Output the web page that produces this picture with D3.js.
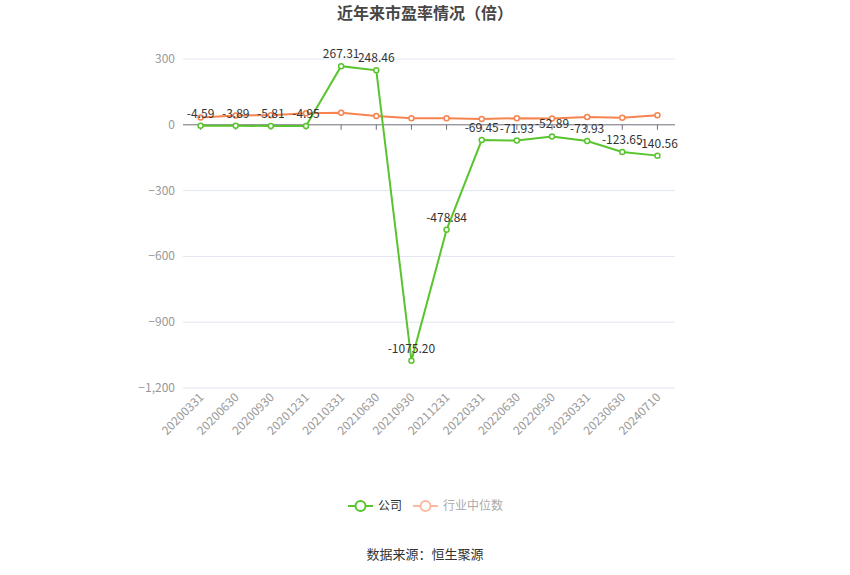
<!DOCTYPE html>
<html>
<head>
<meta charset="utf-8">
<title>近年来市盈率情况</title>
<script src="https://cdn.jsdelivr.net/npm/d3@7"></script>
<style>
  body { margin: 0; background: #fff; }
  text { font-family: "Noto Sans CJK SC", "Noto Sans", sans-serif; }
</style>
</head>
<body>
<script>
// data
var dates = ["20200331", "20200630", "20200930", "20201231", "20210331", "20210630", "20210930",
             "20211231", "20220331", "20220630", "20220930", "20230331", "20230630", "20240710"];
var company = [-4.59, -3.89, -5.81, -4.95, 267.31, 248.46, -1075.20, -478.84, -69.45, -71.93, -52.89, -73.93, -123.65, -140.56];
var industry = [33, 42, 44, 53, 55, 40, 30, 30, 27, 30, 29, 36, 32, 44];
var yTicks = [300, 0, -300, -600, -900, -1200];

var w = 850, h = 575;
var green = "#5ac42e", orange = "#f7844f";

var svg = d3.select("body").append("svg")
    .attr("width", w)
    .attr("height", h);

var x = d3.scaleBand()
    .domain(dates)
    .range([183, 675]);

var y = d3.scaleLinear()
    .domain([-1200, 300])
    .range([388, 59]);

function cx(d) { return x(d) + x.bandwidth() / 2; }

// title
svg.append("text")
    .attr("x", 425).attr("y", 19)
    .attr("text-anchor", "middle")
    .attr("font-size", 16).attr("font-weight", "bold")
    .attr("fill", "#464646")
    .text("近年来市盈率情况（倍）");

// grid lines
svg.append("g").selectAll("line")
    .data(yTicks.filter(function(t) { return t != 0; }))
    .enter().append("line")
    .attr("x1", 183).attr("x2", 675)
    .attr("y1", function(d) { return y(d); })
    .attr("y2", function(d) { return y(d); })
    .attr("stroke", "#e0e6f1");

// y axis labels
var fmt = d3.format(",");
svg.append("g").selectAll("text")
    .data(yTicks)
    .enter().append("text")
    .attr("x", 175)
    .attr("y", function(d) { return y(d) + 4; })
    .attr("text-anchor", "end")
    .attr("font-size", 12)
    .attr("fill", "#999")
    .text(function(d) { return fmt(d); });

// x axis at zero
var xAxis = svg.append("g")
    .attr("transform", "translate(0," + y(0) + ")");
xAxis.append("line")
    .attr("x1", 183).attr("x2", 675)
    .attr("stroke", "#6e7079");
xAxis.selectAll(".tk")
    .data(dates)
    .enter().append("line")
    .attr("class", "tk")
    .attr("x1", cx).attr("x2", cx)
    .attr("y1", 0).attr("y2", 5)
    .attr("stroke", "#6e7079");

// x labels at bottom, rotated
svg.append("g").selectAll("text")
    .data(dates)
    .enter().append("text")
    .attr("transform", function(d) { return "translate(" + (cx(d) + 4) + ",398) rotate(-45)"; })
    .attr("text-anchor", "end")
    .attr("font-size", 12)
    .attr("fill", "#999")
    .text(function(d) { return d; });

var line = d3.line()
    .x(function(d, i) { return cx(dates[i]); })
    .y(function(d) { return y(d); });

function drawSeries(vals, color) {
    svg.append("path")
        .datum(vals)
        .attr("d", line)
        .attr("fill", "none")
        .attr("stroke", color)
        .attr("stroke-width", 2);
    svg.append("g").selectAll("circle")
        .data(vals)
        .enter().append("circle")
        .attr("cx", function(d, i) { return cx(dates[i]); })
        .attr("cy", function(d) { return y(d); })
        .attr("r", 2.5)
        .attr("fill", "#fff")
        .attr("stroke", color)
        .attr("stroke-width", 1.5);
}

drawSeries(industry, orange);
drawSeries(company, green);

// value labels for company
svg.append("g").selectAll("text")
    .data(company)
    .enter().append("text")
    .attr("x", function(d, i) { return cx(dates[i]); })
    .attr("y", function(d) { return y(d) - 8; })
    .attr("text-anchor", "middle")
    .attr("font-size", 12)
    .attr("fill", "#333")
    .text(function(d) { return d.toFixed(2); });

// legend
var legend = [
    { name: "公司", color: green, text: "#333", x: 348 },
    { name: "行业中位数", color: "#fbb9a0", text: "#aaa", x: 413 }
];
var lg = svg.append("g").selectAll("g")
    .data(legend)
    .enter().append("g")
    .attr("transform", function(d) { return "translate(" + d.x + ",506)"; });
lg.append("line")
    .attr("x1", 0).attr("x2", 25)
    .attr("stroke", function(d) { return d.color; })
    .attr("stroke-width", 2);
lg.append("circle")
    .attr("cx", 12.5).attr("r", 5)
    .attr("fill", "#fff")
    .attr("stroke", function(d) { return d.color; })
    .attr("stroke-width", 2);
lg.append("text")
    .attr("x", 30).attr("y", 4)
    .attr("font-size", 12)
    .attr("fill", function(d) { return d.text; })
    .text(function(d) { return d.name; });

// source
svg.append("text")
    .attr("x", 425).attr("y", 559)
    .attr("text-anchor", "middle")
    .attr("font-size", 13)
    .attr("fill", "#333")
    .text("数据来源：恒生聚源");
</script>
</body>
</html>
